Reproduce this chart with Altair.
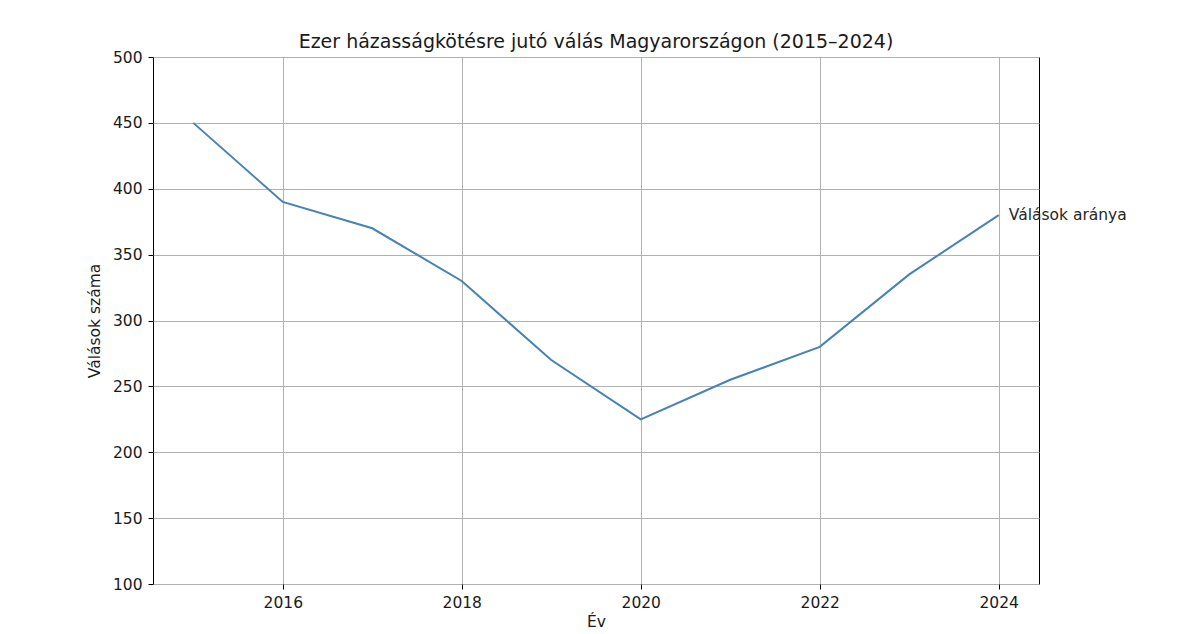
import altair as alt
import pandas as pd

years = [2015, 2016, 2017, 2018, 2019, 2020, 2021, 2022, 2023, 2024]
divorces = [450, 390, 370, 330, 270, 225, 255, 280, 335, 380]
series_label = "Válások aránya"
x_ticks = [2016, 2018, 2020, 2022, 2024]
y_ticks = [100, 150, 200, 250, 300, 350, 400, 450, 500]

df = pd.DataFrame({"Év": years, "Válások száma": divorces})
last = df.tail(1).assign(label=series_label)

FONT = "DejaVu Sans"

x = alt.X("Év:Q", scale=alt.Scale(domain=[2014.55, 2024.45], nice=False, zero=False),
          axis=alt.Axis(values=x_ticks, format="d", title="Év"))
y = alt.Y("Válások száma:Q", scale=alt.Scale(domain=[100, 500], nice=False, zero=False),
          axis=alt.Axis(values=y_ticks, title="Válások száma"))

line = alt.Chart(df).mark_line(color="#4682b4", strokeWidth=2).encode(x=x, y=y)
text = alt.Chart(last).mark_text(align="left", baseline="middle", dx=10, fontSize=15.5,
                                 font=FONT, color="#262626", clip=False).encode(
    x="Év:Q", y="Válások száma:Q", text="label:N")

chart = (line + text).properties(
    width=886, height=527,
    title=alt.TitleParams("Ezer házasságkötésre jutó válás Magyarországon (2015–2024)",
                          fontSize=19, font=FONT, fontWeight="normal", color="#1a1a1a", offset=-2),
    autosize=alt.AutoSizeParams(type="none"),
    padding={"left": 145, "top": 49, "right": 130, "bottom": 48},
).configure_view(
    stroke="black", strokeWidth=1
).configure_axis(
    grid=True, gridColor="#b0b0b0", gridWidth=1, gridOpacity=1,
    domain=False, tickColor="black", tickSize=5, tickWidth=1,
    labelFont=FONT, labelFontSize=15.5, labelColor="#1a1a1a", labelPadding=6,
    titleFont=FONT, titleFontSize=15.5, titleColor="#1a1a1a", titleFontWeight="normal",
).configure_axisX(
    titlePadding=4
).configure_axisY(
    titlePadding=10
)

chart.save("out.html", embed_options={"renderer": "svg", "actions": False})
